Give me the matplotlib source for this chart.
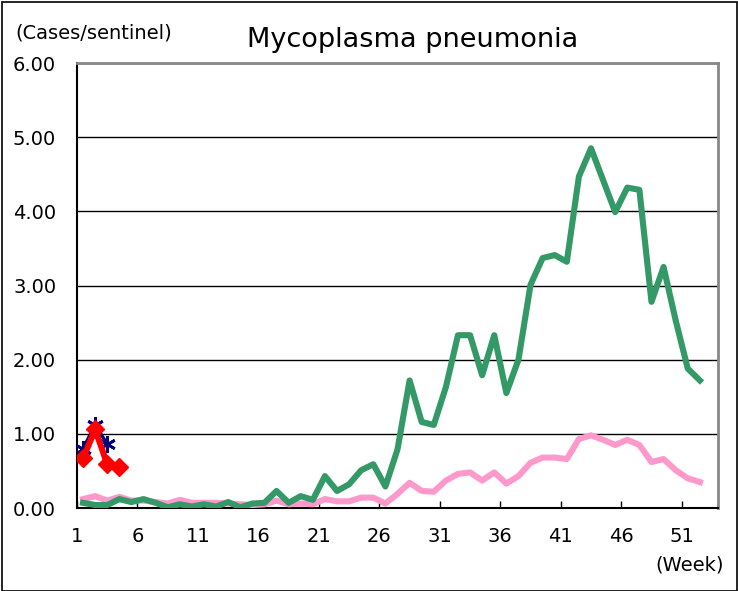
import numpy as np
import matplotlib.pyplot as plt
from matplotlib.patches import Rectangle

plt.rcParams['font.family'] = ['DejaVu Sans']

weeks = np.arange(1, 53)

# previous season (green)
green = [0.07, 0.04, 0.04, 0.12, 0.08, 0.12, 0.07, 0.01, 0.05, 0.02,
         0.05, 0.02, 0.08, 0.01, 0.06, 0.07, 0.23, 0.07, 0.16, 0.11,
         0.43, 0.23, 0.32, 0.51, 0.59, 0.29, 0.79, 1.72, 1.16, 1.12,
         1.63, 2.33, 2.33, 1.79, 2.33, 1.55, 2.00, 3.01, 3.37, 3.41,
         3.32, 4.47, 4.85, 4.42, 3.99, 4.32, 4.29, 2.78, 3.25, 2.53,
         1.88, 1.72]

# average of past years (pink)
pink = [0.12, 0.16, 0.10, 0.15, 0.10, 0.10, 0.08, 0.06, 0.11, 0.07,
        0.07, 0.07, 0.06, 0.05, 0.04, 0.05, 0.10, 0.05, 0.06, 0.05,
        0.12, 0.09, 0.09, 0.14, 0.14, 0.06, 0.19, 0.34, 0.23, 0.22,
        0.37, 0.46, 0.48, 0.37, 0.48, 0.33, 0.43, 0.61, 0.68, 0.68,
        0.66, 0.93, 0.98, 0.92, 0.85, 0.92, 0.85, 0.62, 0.66, 0.51,
        0.40, 0.35]

# current season (red) and previous comparison (navy)
red_weeks = [1, 2, 3, 4]
red = [0.67, 1.06, 0.59, 0.55]
navy_weeks = [1, 2, 3]
navy = [0.80, 1.12, 0.86]

x_ticks = [1, 6, 11, 16, 21, 26, 31, 36, 41, 46, 51]
y_ticks = [0, 1, 2, 3, 4, 5, 6]

fig = plt.figure(figsize=(7.38, 5.91), dpi=100)
ax = fig.add_axes([77 / 738, 83 / 591, 641 / 738, 445 / 591])

ax.plot(weeks, pink, color='#FF99CC', lw=4.4, solid_joinstyle='round', zorder=3)
ax.plot(weeks, green, color='#339966', lw=4.4, solid_joinstyle='round', zorder=4)
ax.plot(navy_weeks, navy, color='#000080', lw=2.5, marker=(6, 2, 0),
        markersize=12, markeredgewidth=2, zorder=5)
ax.plot(red_weeks, red, color='#FF0000', lw=4.4, marker='D',
        markersize=9.5, zorder=6)

ax.set_xlim(0.5, 53.5)
ax.set_ylim(0, 6)
ax.set_yticks(y_ticks)
ax.set_yticklabels([f'{v:.2f}' for v in y_ticks])
ax.set_xticks([t - 0.5 for t in x_ticks])
ax.set_xticklabels([str(t) for t in x_ticks])
ax.tick_params(axis='y', length=0, pad=15, labelsize=14)
ax.tick_params(axis='x', direction='in', length=5, width=1, pad=14, labelsize=14)

ax.grid(axis='y', color='black', lw=1)
ax.set_axisbelow(True)
for s in ['left', 'bottom']:
    ax.spines[s].set_color('black')
    ax.spines[s].set_linewidth(1.5)
for s in ['top', 'right']:
    ax.spines[s].set_color('#888888')
    ax.spines[s].set_linewidth(2)

fig.text(15 / 738, 1 - 33 / 591, '(Cases/sentinel)', fontsize=14, va='center', ha='left')
fig.text(413 / 738, 1 - 40 / 591, 'Mycoplasma pneumonia', fontsize=19.5, va='center', ha='center')
fig.text(690 / 738, 1 - 565 / 591, '(Week)', fontsize=14, va='center', ha='center')

fig.patches.append(Rectangle((2 / 738, 0), 735 / 738, 1 - 2 / 591, transform=fig.transFigure,
                             fill=False, edgecolor='black', lw=1.2))

fig.savefig('out.png', dpi=100)
